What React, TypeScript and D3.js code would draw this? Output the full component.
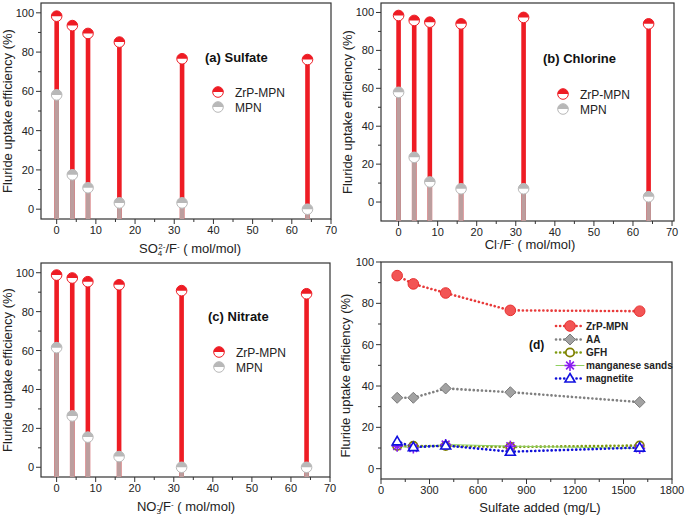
import React from "react";
import * as d3 from "d3";

// ---------- data ----------
const ratios = [0, 4, 8, 16, 32, 64];
const sulfateZrP = [98.3, 93.5, 89.5, 85.1, 76.6, 76.2];
const sulfateMPN = [58.2, 17.5, 10.9, 3.2, 3.2, 0];
const chlorineZrP = [98.4, 95.8, 94.9, 94.0, 97.4, 94.0];
const chlorineMPN = [57.9, 23.6, 10.6, 7.0, 7.0, 2.8];
const nitrateZrP = [98.8, 97.3, 95.4, 93.8, 90.8, 89.2];
const nitrateMPN = [61.5, 26.4, 15.5, 5.5, 0, 0];

const sulfateAdded = [100, 200, 400, 800, 1600];
const dZrP = [93.4, 89.4, 85.0, 76.6, 76.2];
const dAA = [34.3, 34.3, 38.8, 37.0, 32.2];
const dGFH = [11.0, 11.0, 11.0, 10.5, 11.2];
const dMn = [10.9, 10.0, 11.7, 10.9, 9.8];
const dMag = [13.2, 10.4, 11.2, 8.2, 10.2];

const stemTicksX = [0, 10, 20, 30, 40, 50, 60, 70];
const stemTicksY = [0, 20, 40, 60, 80, 100];
const dTicksX = [0, 300, 600, 900, 1200, 1500, 1800];
const dTicksY = [0, 20, 40, 60, 80, 100];

const FONT = "'Liberation Sans', Arial, sans-serif";
const AXIS = "#333";
const RED = "#ee1c24";
const GREY = "#b8b8b8";
const STEM_GREY = "#bc9e9e";

function HalfCircle({ cx, cy, r, color }: { cx: number; cy: number; r: number; color: string }) {
  const top = `M${cx - r},${cy} A${r},${r} 0 0 1 ${cx + r},${cy} Z`;
  return (
    <g>
      <circle cx={cx} cy={cy} r={r} fill="#fff" stroke={color} strokeWidth={1} />
      <path d={top} fill={color} />
    </g>
  );
}

function Frame({ L, R, T, B, xs, ys, xTicks, yTicks, xMinor, yMinor }: any) {
  return (
    <g fontFamily={FONT}>
      <rect x={L} y={T} width={R - L} height={B - T} fill="none" stroke={AXIS} strokeWidth={1.2} />
      {xMinor.map((v: number) => (
        <line key={"xm" + v} x1={xs(v)} x2={xs(v)} y1={B} y2={B + 3} stroke={AXIS} />
      ))}
      {xTicks.map((v: number) => (
        <g key={"x" + v}>
          <line x1={xs(v)} x2={xs(v)} y1={B} y2={B + 5} stroke={AXIS} />
          <text x={xs(v)} y={B + 15} fontSize={11} textAnchor="middle" fill="#222">{v}</text>
        </g>
      ))}
      {yMinor.map((v: number) => (
        <line key={"ym" + v} x1={L} x2={L - 3} y1={ys(v)} y2={ys(v)} stroke={AXIS} />
      ))}
      {yTicks.map((v: number) => (
        <g key={"y" + v}>
          <line x1={L} x2={L - 5} y1={ys(v)} y2={ys(v)} stroke={AXIS} />
          <text x={L - 7} y={ys(v) + 4} fontSize={11} textAnchor="end" fill="#222">{v}</text>
        </g>
      ))}
    </g>
  );
}

function StemPanel({ L, R, T, B, xDom, yDom, zrp, mpn, title, titlePos, legPos, xLabel, xLabelPos, yLabelPos }: any) {
  const xs = d3.scaleLinear().domain(xDom).range([L, R]);
  const ys = d3.scaleLinear().domain(yDom).range([B, T]);
  const xMinor = d3.range(0, 71, 5).filter((v) => v % 10 !== 0);
  const yMinor = d3.range(10, 101, 20);
  return (
    <g>
      <Frame L={L} R={R} T={T} B={B} xs={xs} ys={ys} xTicks={stemTicksX} yTicks={stemTicksY} xMinor={xMinor} yMinor={yMinor} />
      {ratios.map((r, i) => (
        <rect key={"zs" + i} x={xs(r) - 2.3} width={4.6} y={ys(zrp[i])} height={B - ys(zrp[i])} fill={RED} />
      ))}
      {ratios.map((r, i) => (
        <rect key={"ms" + i} x={xs(r) - 2.3} width={4.6} y={ys(mpn[i])} height={B - ys(mpn[i])} fill={STEM_GREY} />
      ))}
      {ratios.map((r, i) => (
        <HalfCircle key={"zm" + i} cx={xs(r)} cy={ys(zrp[i])} r={5.3} color={RED} />
      ))}
      {ratios.map((r, i) => (
        <HalfCircle key={"mm" + i} cx={xs(r)} cy={ys(mpn[i])} r={5.3} color={GREY} />
      ))}
      <text x={titlePos[0]} y={titlePos[1]} fontFamily={FONT} fontSize={13} fontWeight="bold" fill="#111">{title}</text>
      <HalfCircle cx={legPos[0]} cy={legPos[1]} r={5.3} color={RED} />
      <HalfCircle cx={legPos[0]} cy={legPos[1] + 15} r={5.3} color={GREY} />
      <text x={legPos[0] + 17} y={legPos[1] + 4.5} fontFamily={FONT} fontSize={12} fill="#222">ZrP-MPN</text>
      <text x={legPos[0] + 17} y={legPos[1] + 19.5} fontFamily={FONT} fontSize={12} fill="#222">MPN</text>
      <text x={xLabelPos[0]} y={xLabelPos[1]} fontFamily={FONT} fontSize={13} textAnchor="middle" fill="#222">{xLabel}</text>
      <text transform={`translate(${yLabelPos[0]},${yLabelPos[1]}) rotate(-90)`} fontFamily={FONT} fontSize={13} textAnchor="middle" fill="#222">
        Fluride uptake efficiency (%)
      </text>
    </g>
  );
}

function Asterisk({ cx, cy, s, color }: any) {
  const lines = [0, 45, 90, 135].map((a) => {
    const rad = (a * Math.PI) / 180;
    return (
      <line key={a} x1={cx - s * Math.cos(rad)} y1={cy - s * Math.sin(rad)} x2={cx + s * Math.cos(rad)} y2={cy + s * Math.sin(rad)} stroke={color} strokeWidth={1.6} />
    );
  });
  return <g>{lines}</g>;
}

function Marker({ type, cx, cy }: any) {
  if (type === "zrp") return <circle cx={cx} cy={cy} r={5.3} fill="#f25555" stroke="#e83030" strokeWidth={1} />;
  if (type === "aa") {
    const s = 5.5;
    return <path d={`M${cx},${cy - s} L${cx + s},${cy} L${cx},${cy + s} L${cx - s},${cy} Z`} fill="#a2a2a2" stroke="#7a7a7a" strokeWidth={1} />;
  }
  if (type === "gfh") return <circle cx={cx} cy={cy} r={4.2} fill="#fff" stroke="#7f7f00" strokeWidth={1.8} />;
  if (type === "mn") return <Asterisk cx={cx} cy={cy} s={5.5} color="#8a1cf0" />;
  const s = 5;
  return <path d={`M${cx},${cy - s} L${cx + s},${cy + s * 0.7} L${cx - s},${cy + s * 0.7} Z`} fill="#fff" stroke="#1010e0" strokeWidth={1.6} />;
}

const dSeries = [
  { name: "ZrP-MPN", type: "zrp", vals: dZrP, color: "#e83a3a", dash: "0.1 4", width: 2.6 },
  { name: "AA", type: "aa", vals: dAA, color: "#808080", dash: "0.1 4", width: 2.6 },
  { name: "GFH", type: "gfh", vals: dGFH, color: "#7f9a10", dash: "0.1 4", width: 2.6 },
  { name: "manganese sands", type: "mn", vals: dMn, color: "#8fd060", dash: "", width: 1 },
  { name: "magnetite", type: "mag", vals: dMag, color: "#1010d8", dash: "0.1 4", width: 2.6 },
];

function PanelD() {
  const L = 381, R = 672, T = 262, B = 479;
  const xs = d3.scaleLinear().domain([0, 1800]).range([L, R]);
  const ys = d3.scaleLinear().domain([-5, 100]).range([B, T]);
  const xMinor = d3.range(150, 1800, 300);
  const yMinor = d3.range(10, 101, 20);
  const line = d3.line<number>().x((_, i) => xs(sulfateAdded[i])).y((v) => ys(v));
  const legY = [326, 339.5, 352.5, 365.5, 378.5];
  return (
    <g>
      <Frame L={L} R={R} T={T} B={B} xs={xs} ys={ys} xTicks={dTicksX} yTicks={dTicksY} xMinor={xMinor} yMinor={yMinor} />
      {dSeries.map((s) => (
        <path key={"l" + s.name} d={line(s.vals) || ""} fill="none" stroke={s.color} strokeWidth={s.width} strokeDasharray={s.dash || undefined} strokeLinecap="round" />
      ))}
      {dSeries.map((s) =>
        s.vals.map((v, i) => <Marker key={s.name + i} type={s.type} cx={xs(sulfateAdded[i])} cy={ys(v)} />)
      )}
      {dSeries.map((s, k) => (
        <g key={"leg" + s.name}>
          <line x1={556} x2={584} y1={legY[k]} y2={legY[k]} stroke={s.color} strokeWidth={s.width} strokeDasharray={s.dash || undefined} strokeLinecap="round" />
          <Marker type={s.type} cx={570} cy={legY[k]} />
          <text x={586} y={legY[k] + 3.5} fontFamily={FONT} fontSize={10} fontWeight="bold" fill="#222">{s.name}</text>
        </g>
      ))}
      <text x={529} y={349} fontFamily={FONT} fontSize={12} fontWeight="bold" fill="#111">(d)</text>
      <text x={540} y={512} fontFamily={FONT} fontSize={13} textAnchor="middle" fill="#222">Sulfate added (mg/L)</text>
      <text transform={`translate(350,${(T + B) / 2 + 5}) rotate(-90)`} fontFamily={FONT} fontSize={13} textAnchor="middle" fill="#222">
        Fluride uptake efficiency (%)
      </text>
    </g>
  );
}

export default function App() {
  const sup = (t: string) => <tspan fontSize={8} dy={-4}>{t}</tspan>;
  const xa = (
    <>
      SO<tspan fontSize={8} dy={3}>4</tspan>
      <tspan fontSize={8} dy={-7} dx={-4}>2-</tspan>
      <tspan dy={4}>/F</tspan>
      {sup("-")}
      <tspan dy={4}> ( mol/mol)</tspan>
    </>
  );
  const xb = (
    <>
      Cl{sup("-")}
      <tspan dy={4}>/F</tspan>
      {sup("-")}
      <tspan dy={4}> ( mol/mol)</tspan>
    </>
  );
  const xc = (
    <>
      NO<tspan fontSize={8} dy={3}>3</tspan>
      <tspan fontSize={8} dy={-7} dx={-4}>-</tspan>
      <tspan dy={4}>/F</tspan>
      {sup("-")}
      <tspan dy={4}> ( mol/mol)</tspan>
    </>
  );
  return (
    <svg width={685} height={518} style={{ position: "absolute", left: 0, top: 0, background: "#fff" }}>
      <rect width={685} height={518} fill="#fff" />
      <StemPanel L={41} R={331} T={3} B={219} xDom={[-4, 70]} yDom={[-5, 105]} zrp={sulfateZrP} mpn={sulfateMPN}
        title="(a) Sulfate" titlePos={[205, 62]} legPos={[218, 92]} xLabel={xa} xLabelPos={[190, 253]} yLabelPos={[12, 111]} />
      <StemPanel L={381} R={674} T={3} B={221} xDom={[-4.5, 70.5]} yDom={[-10, 105]} zrp={chlorineZrP} mpn={chlorineMPN}
        title="(b) Chlorine" titlePos={[543, 63]} legPos={[563, 94]} xLabel={xb} xLabelPos={[530, 249]} yLabelPos={[352, 112]} />
      <StemPanel L={41} R={330} T={263} B={477} xDom={[-4, 70]} yDom={[-5, 105]} zrp={nitrateZrP} mpn={nitrateMPN}
        title="(c) Nitrate" titlePos={[208, 321]} legPos={[219, 352]} xLabel={xc} xLabelPos={[186, 511]} yLabelPos={[12, 370]} />
      <PanelD />
    </svg>
  );
}
